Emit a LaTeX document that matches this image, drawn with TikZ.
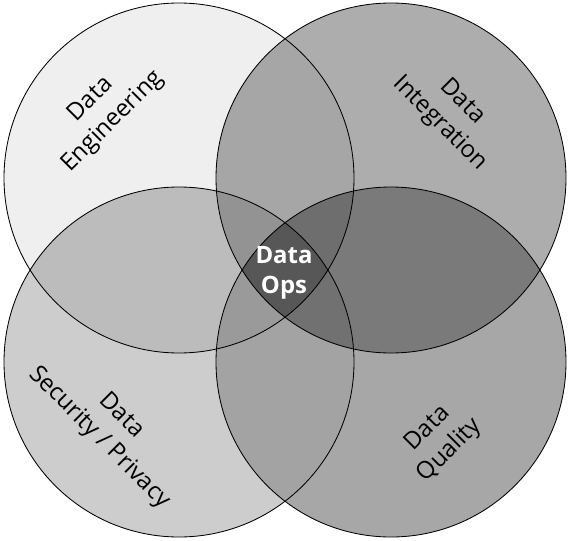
\documentclass[tikz,border=0pt]{standalone}
\usepackage{fontspec}
\setmainfont{Open Sans}
\usetikzlibrary{positioning}

% region greys
\definecolor{cTL}{HTML}{EFEFEF}
\definecolor{cTR}{HTML}{ADADAD}
\definecolor{cBL}{HTML}{CDCDCD}
\definecolor{cBR}{HTML}{A7A7A7}
\definecolor{cTop}{HTML}{A6A6A6}
\definecolor{cLeft}{HTML}{BCBCBC}
\definecolor{cRight}{HTML}{7A7A7A}
\definecolor{cBottom}{HTML}{A3A3A3}
\definecolor{cTriUL}{HTML}{939393}
\definecolor{cTriUR}{HTML}{6E6E6E}
\definecolor{cTriLL}{HTML}{9A9A9A}
\definecolor{cTriLR}{HTML}{717171}
\definecolor{cCore}{HTML}{575757}

\begin{document}
\begin{tikzpicture}[x=0.025cm, y=-0.025cm,
  ring/.style={draw=black, line width=0.6pt},
  lbl/.style={align=center, text=black, font=\fontsize{17}{22}\selectfont},
  hub/.style={align=center, text=white, font=\fontsize{17}{21}\selectfont\bfseries}]
\useasboundingbox (0,0) rectangle (572,540);

\coordinate (tl) at (179,178);
\coordinate (tr) at (391,178);
\coordinate (bl) at (179,362);
\coordinate (br) at (391,362);

% single circles
\fill[cTL] (tl) circle (175);
\fill[cTR] (tr) circle (175);
\fill[cBL] (bl) circle (175);
\fill[cBR] (br) circle (175);

% pairs
\begin{scope}\clip (tl) circle (175); \fill[cTop] (tr) circle (175); \end{scope}
\begin{scope}\clip (tl) circle (175); \fill[cLeft] (bl) circle (175); \end{scope}
\begin{scope}\clip (tr) circle (175); \fill[cRight] (br) circle (175); \end{scope}
\begin{scope}\clip (bl) circle (175); \fill[cBottom] (br) circle (175); \end{scope}

% triples
\begin{scope}\clip (tl) circle (175); \clip (tr) circle (175); \fill[cTriUL] (bl) circle (175); \end{scope}
\begin{scope}\clip (tl) circle (175); \clip (tr) circle (175); \fill[cTriUR] (br) circle (175); \end{scope}
\begin{scope}\clip (bl) circle (175); \clip (br) circle (175); \fill[cTriLL] (tl) circle (175); \end{scope}
\begin{scope}\clip (bl) circle (175); \clip (br) circle (175); \fill[cTriLR] (tr) circle (175); \end{scope}

% all four
\begin{scope}
  \clip (tl) circle (175); \clip (tr) circle (175); \clip (bl) circle (175);
  \fill[cCore] (br) circle (175);
\end{scope}

\foreach \c in {tl,tr,bl,br}
  \draw[ring] (\c) circle (175);

\node[lbl, rotate=45] (eng) at (102,111) {Data\\Engineering};
\node[lbl, rotate=-45] (integ) at (451,113) {Data\\Integration};
\node[lbl, rotate=-45] (secur) at (110,427) {Data\\Security / Privacy};
\node[lbl, rotate=45] (qual) at (439,440) {Data\\Quality};
\node[hub] (ops) at (284,273) {Data\\Ops};
\end{tikzpicture}
\end{document}
